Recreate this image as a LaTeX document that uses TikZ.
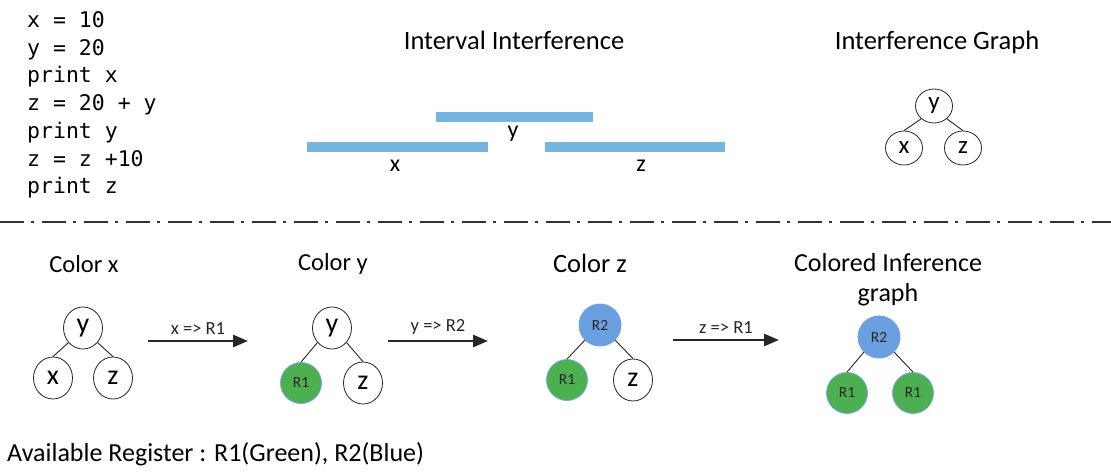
\documentclass[tikz,border=0pt]{standalone}
\usepackage{fontspec}
\setmainfont{Carlito}
\newfontfamily\codefont{DejaVu Sans Mono}
\usetikzlibrary{shapes.geometric,arrows.meta}
\definecolor{barblue}{HTML}{74B6E0}
\definecolor{regblue}{HTML}{6A9FE0}
\definecolor{reggreen}{HTML}{4CAF50}
\definecolor{rimblue}{HTML}{7FA8DE}
\definecolor{ink}{HTML}{262626}
\tikzset{
  fs/.style={font=\fontsize{#1}{#1}\selectfont},
  codeline/.style={anchor=base west, inner sep=0pt, font=\codefont\fontsize{21.5}{21.5}\selectfont},
  vnode/.style={ellipse, draw=black!85, line width=0.8pt, minimum width=39pt, minimum height=42pt, inner sep=0pt, fs=28},
  snode/.style={ellipse, draw=black!85, line width=0.8pt, minimum width=37pt, minimum height=34pt, inner sep=0pt, fs=25},
  gnode/.style={circle, fill=reggreen, draw=rimblue, line width=0.8pt, minimum size=41pt, inner sep=0pt, fs=15.5, text=black!85},
  bnode/.style={circle, fill=regblue, draw=regblue, line width=0.8pt, minimum size=42pt, inner sep=0pt, fs=15.5, text=black!85},
  edge/.style={draw=black!85, line width=0.9pt},
  bar/.style={rectangle, fill=barblue, inner sep=0pt, minimum height=10pt},
  title/.style={fs=26.5, inner sep=0pt},
  ctitle/.style={fs=24.5, inner sep=0pt},
  barlbl/.style={fs=24, inner sep=0pt},
  arr/.style={draw=ink, line width=2.6pt, -{Triangle[length=15pt,width=12pt]}},
  arrlbl/.style={fs=18.5, inner sep=0pt, text=ink},
}
\begin{document}
\begin{tikzpicture}[x=1pt,y=-1pt]
\useasboundingbox (0,0) rectangle (1111,476);
\fill[white] (0,0) rectangle (1111,476);

% code
\node[codeline] (code1) at (27,27.5) {x = 10};
\node[codeline] (code2) at (27,55.2) {y = 20};
\node[codeline] (code3) at (27,82.9) {print x};
\node[codeline] (code4) at (27,110.6) {z = 20 + y};
\node[codeline] (code5) at (27,138.3) {print y};
\node[codeline] (code6) at (27,166) {z = z +10};
\node[codeline] (code7) at (27,193.7) {print z};

% titles
\node[title] (tii) at (514,40) {Interval Interference};
\node[title] (tig) at (937,42) {Interference Graph};

% bars
\node[bar, minimum width=157pt] (bary) at (514.5,117.5) {};
\node[bar, minimum width=181pt] (barx) at (397.5,147) {};
\node[bar, minimum width=180pt] (barz) at (635,147) {};
\node[barlbl] (ly) at (513,134) {y};
\node[barlbl] (lx) at (395,166) {x};
\node[barlbl] (lz) at (641,166) {z};

% small interference graph
\node[snode] (iy) at (934,106) {y};
\node[snode] (ix) at (904,148) {x};
\node[snode] (iz) at (963,148) {z};
\draw[edge] (iy.225) -- (ix.north);
\draw[edge] (iy.-45) -- (iz.north);

% separator
\coordinate (dl) at (0,222);
\coordinate (dr) at (1111,222);
\draw[draw=black!80, line width=1.8pt, dash pattern=on 24pt off 7pt on 3pt off 8pt] (dl) -- (dr);

% bottom titles
\node[ctitle] (c1) at (84,264) {Color x};
\node[ctitle] (c2) at (333,264) {Color y};
\node[title] (c3) at (590,263) {Color z};
\node[title, align=center, font=\fontsize{26}{30}\selectfont] (c4) at (888,280) {Colored Inference\\graph};

% graph 1
\node[vnode] (ay) at (83,328) {y};
\node[vnode] (ax) at (53,378) {x};
\node[vnode] (az) at (113,378) {z};
\draw[edge] (ay.225) -- (ax.north);
\draw[edge] (ay.-45) -- (az.north);

% graph 2
\node[vnode] (by) at (332,328) {y};
\node[gnode] (bx) at (301,383) {R1};
\node[vnode] (bz) at (363,383) {z};
\draw[edge] (by.225) -- (bx.north);
\draw[edge] (by.-45) -- (bz.north);

% graph 3
\node[bnode] (cy) at (600,325) {R2};
\node[gnode] (cx) at (567,380) {R1};
\node[vnode] (cz) at (633,380) {z};
\draw[edge] (cy.225) -- (cx.north);
\draw[edge] (cy.-45) -- (cz.north);

% graph 4
\node[bnode] (dy) at (879,337) {R2};
\node[gnode] (dx) at (847,393) {R1};
\node[gnode] (dz) at (913,393) {R1};
\draw[edge] (dy.225) -- (dx.north);
\draw[edge] (dy.-45) -- (dz.north);

% arrows
\coordinate (a1s) at (148,341);
\coordinate (a1e) at (248,341);
\coordinate (a2s) at (388,341);
\coordinate (a2e) at (488,341);
\coordinate (a3s) at (673,340);
\coordinate (a3e) at (779,340);
\draw[arr] (a1s) -- node[arrlbl, above=5pt] (l1) {x => R1} (a1e);
\draw[arr] (a2s) -- node[arrlbl, above=5pt] (l2) {y => R2} (a2e);
\draw[arr] (a3s) -- node[arrlbl, above=5pt] (l3) {z => R1} (a3e);

% footer
\node[fs=26, anchor=west, inner sep=0pt] (foot) at (7,454) {Available Register : R1(Green), R2(Blue)};
\end{tikzpicture}
\end{document}
